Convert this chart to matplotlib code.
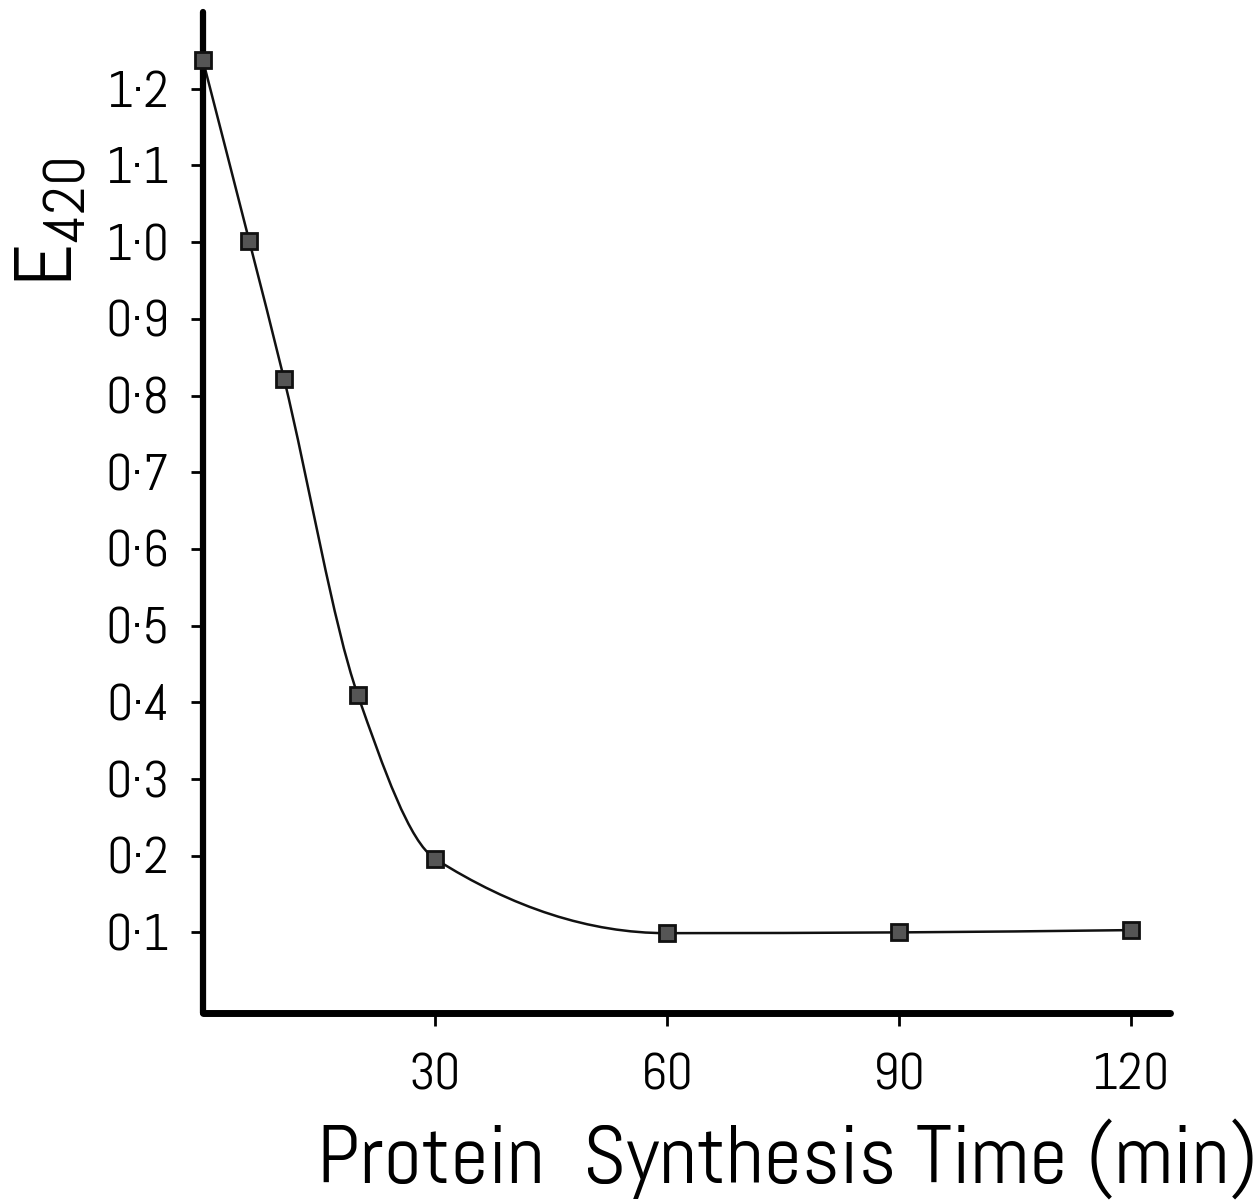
import numpy as np
import matplotlib
matplotlib.use('Agg')
import matplotlib.pyplot as plt
from matplotlib.path import Path
from matplotlib.patches import PathPatch

# 细长字体, 找不到时退回 DejaVu Sans
plt.rcParams['font.family'] = ['Abel', 'Roboto Condensed', 'DejaVu Sans']
plt.rcParams['mathtext.fontset'] = 'custom'
plt.rcParams['mathtext.rm'] = 'Abel'

# 读图得到的数据
time_min = [0, 6, 10.5, 20, 30, 60, 90, 120]
e420 = [1.237, 1.001, 0.821, 0.410, 0.196, 0.099, 0.100, 0.103]
x_ticks = [30, 60, 90, 120]
y_ticks = [0.1, 0.2, 0.3, 0.4, 0.5, 0.6, 0.7, 0.8, 0.9, 1.0, 1.1, 1.2]


def pchip_slopes(x, y):
    # 单调三次样条的斜率 (Fritsch-Carlson)
    x = np.asarray(x, float)
    y = np.asarray(y, float)
    h = np.diff(x)
    d = np.diff(y) / h
    m = np.zeros_like(y)
    m[0], m[-1] = d[0], d[-1]
    for k in range(1, len(x) - 1):
        if d[k - 1] * d[k] <= 0:
            m[k] = 0.0
        else:
            w1 = 2 * h[k] + h[k - 1]
            w2 = h[k] + 2 * h[k - 1]
            m[k] = (w1 + w2) / (w1 / d[k - 1] + w2 / d[k])
    return m


fig = plt.figure(figsize=(12.59, 12.03), dpi=100)
ax = fig.add_axes([0.1612, 0.158, 0.768, 0.832])

# 平滑曲线: 用贝塞尔曲线连接各数据点
m = pchip_slopes(time_min, e420)
verts = [(time_min[0], e420[0])]
codes = [Path.MOVETO]
for i in range(len(time_min) - 1):
    dx = time_min[i + 1] - time_min[i]
    verts += [(time_min[i] + dx / 3, e420[i] + m[i] * dx / 3),
              (time_min[i + 1] - dx / 3, e420[i + 1] - m[i + 1] * dx / 3),
              (time_min[i + 1], e420[i + 1])]
    codes += [Path.CURVE4] * 3
ax.add_patch(PathPatch(Path(verts, codes), fill=False, lw=1.8, color='#111111', zorder=2))

ax.plot(time_min, e420, ls='none', marker='s', ms=11.5, mfc='#555555',
        mec='#111111', mew=2, zorder=3, clip_on=False)

ax.set_xlim(0, 125)
ax.set_ylim(-0.005, 1.30)

ax.spines['top'].set_visible(False)
ax.spines['right'].set_visible(False)
ax.spines['left'].set_linewidth(4.5)
ax.spines['bottom'].set_linewidth(5)
ax.spines['left'].set_capstyle('round')
ax.spines['bottom'].set_capstyle('round')

ax.set_xticks(x_ticks)
ax.set_xticklabels([str(t) for t in x_ticks])
ax.set_yticks(y_ticks)
ax.set_yticklabels([('%.1f' % v).replace('.', '·') for v in y_ticks])
ax.tick_params(axis='both', direction='out', length=9, width=2, labelsize=37)
ax.tick_params(axis='y', pad=15)
ax.tick_params(axis='x', pad=20)

ax.set_xlabel('Protein  Synthesis Time (min)', fontsize=60, x=0.604, labelpad=14)
ax.set_ylabel(r'$\mathrm{E_{420}}$', fontsize=60, labelpad=12, y=0.79)

# 图注几乎被裁掉, 只露出顶端
fig.text(0.1406, -0.002, 'FIGURE 3.5', fontsize=20, fontweight='bold', va='top')

fig.savefig('out.png', dpi=100)
